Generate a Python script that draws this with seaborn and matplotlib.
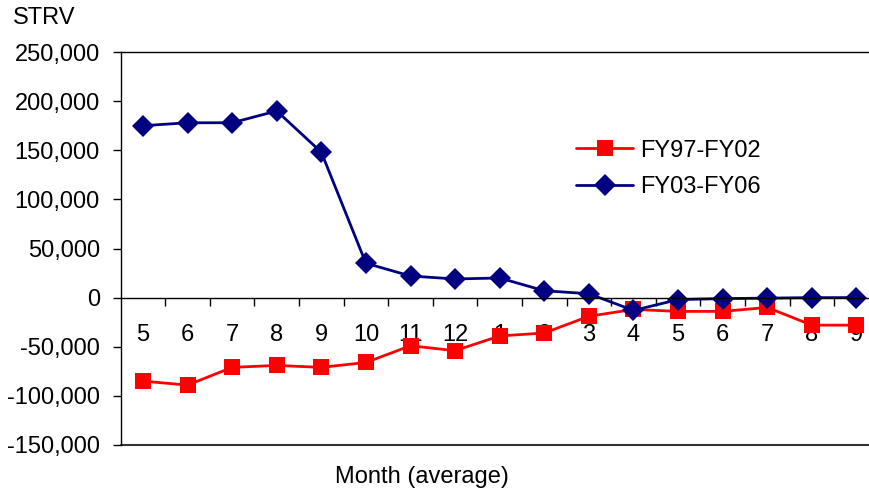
import matplotlib
matplotlib.use("Agg")
import matplotlib.pyplot as plt
from matplotlib.ticker import FuncFormatter, FixedLocator
import seaborn as sns
import pandas as pd

months = ["5", "6", "7", "8", "9", "10", "11", "12", "1", "2", "3", "4", "5", "6", "7", "8", "9"]
fy97_fy02 = [-85000, -89000, -71000, -69000, -71000, -66000, -49000, -54000,
             -39000, -36000, -19000, -12000, -14000, -14000, -10000, -28000, -28000]
fy03_fy06 = [175000, 178000, 178000, 190000, 148000, 35000, 22000, 19000,
             20000, 7000, 4000, -13000, -2000, -1000, -500, 0, 0]
series_names = ["FY97-FY02", "FY03-FY06"]
y_ticks = [-150000, -100000, -50000, 0, 50000, 100000, 150000, 200000, 250000]

sns.set_theme(style="white")
plt.rcParams["font.family"] = ["Liberation Sans", "DejaVu Sans"]
plt.rcParams["text.color"] = "black"
plt.rcParams["xtick.color"] = "black"
plt.rcParams["ytick.color"] = "black"
FS = 17

pos = list(range(len(months)))
df = pd.concat([
    pd.DataFrame({"pos": pos, "value": fy97_fy02, "period": series_names[0]}),
    pd.DataFrame({"pos": pos, "value": fy03_fy06, "period": series_names[1]}),
])

fig = plt.figure(figsize=(8.7, 4.94), dpi=100)
ax = fig.add_axes([0.1387, 0.0992, 0.8713, 0.7955])

sns.lineplot(
    data=df, x="pos", y="value", hue="period", style="period",
    palette={series_names[0]: "#FF0000", series_names[1]: "#000080"},
    markers={series_names[0]: "s", series_names[1]: "D"},
    dashes=False, sort=False, linewidth=2, markersize=11,
    markeredgewidth=0, ax=ax,
)

ax.set_xlim(-0.5, len(months) - 0.5)
ax.set_ylim(-150000, 250000)
ax.set_yticks(y_ticks)
ax.yaxis.set_major_formatter(FuncFormatter(lambda v, p: f"{int(v):,}"))
ax.tick_params(axis="y", direction="out", length=6, width=1, color="black",
               labelsize=FS, pad=9, left=True, labelcolor="black")

# category axis sits on the zero line; boundary ticks, centred labels
ax.spines["bottom"].set_position(("data", 0))
ax.set_xticks(pos)
ax.set_xticklabels(months)
ax.xaxis.set_minor_locator(FixedLocator([p + 0.5 for p in pos[:-1]]))
ax.tick_params(axis="x", which="major", length=0, labelsize=FS, pad=19,
               labelcolor="black")
ax.tick_params(axis="x", which="minor", direction="out", length=6, width=1,
               color="black", bottom=True)

for side in ["left", "top", "bottom"]:
    ax.spines[side].set_color("black")
    ax.spines[side].set_linewidth(1)
ax.spines["right"].set_visible(False)
ax.axhline(-150000, color="#333333", linewidth=1.5, clip_on=False)

ax.set_xlabel("")
ax.set_ylabel("")
fig.text(0.485, 0.035, "Month (average)", ha="center", va="center", fontsize=FS)
fig.text(0.015, 0.985, "STRV", ha="left", va="top", fontsize=FS)

handles, labels = ax.get_legend_handles_labels()
ax.legend(handles, labels, loc="upper left", bbox_to_anchor=(0.649, 0.741),
          bbox_transform=fig.transFigure, frameon=False, fontsize=FS,
          handlelength=2.4, handletextpad=0.3, labelspacing=0.62,
          borderpad=0, markerscale=1.0)

fig.savefig("out.png", dpi=100)
